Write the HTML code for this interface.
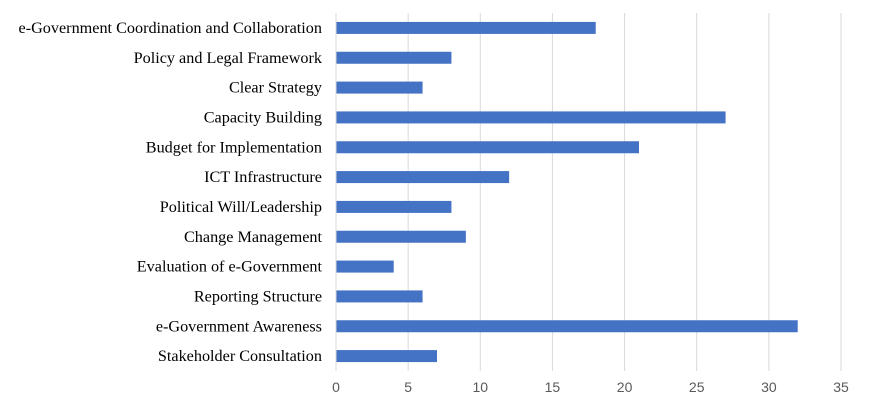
<!DOCTYPE html>
<html><head><meta charset="utf-8"><style>
html,body{margin:0;padding:0;background:#fff;}
svg{display:block;}
.cat{font-family:"Liberation Serif",serif;font-size:16.2px;fill:#000;}
.tick{font-family:"Liberation Sans",sans-serif;font-size:14px;fill:#595959;}
</style></head><body>
<svg id="chart" width="879" height="418"></svg>
<script>
const categories=["e-Government Coordination and Collaboration","Policy and Legal Framework","Clear Strategy","Capacity Building","Budget for Implementation","ICT Infrastructure","Political Will/Leadership","Change Management","Evaluation of e-Government","Reporting Structure","e-Government Awareness","Stakeholder Consultation"];
const values=[18,8,6,27,21,12,8,9,4,6,32,7];
const ticks=[0,5,10,15,20,25,30,35];
const NS="http://www.w3.org/2000/svg";
const svgEl=document.getElementById('chart');
const x0=336,x1=841,xmax=35,yTop=13,yBottom=371;
const xs=v=>x0+(x1-x0)*v/xmax;
const band=(yBottom-yTop)/categories.length;
const yc=i=>yTop+band*(i+0.5);
function mk(t,a){const e=document.createElementNS(NS,t);for(const k in a)e.setAttribute(k,a[k]);svgEl.appendChild(e);return e;}
ticks.forEach(t=>{
 const g=mk('line',{x1:xs(t),x2:xs(t),y1:yTop,y2:yBottom,stroke:'#d9d9d9','stroke-width':1});
 
 
 const l=mk('text',{x:xs(t),y:392,'text-anchor':'middle',class:'tick'});
 l.textContent=t;
 
 
});
categories.forEach((c,i)=>{
 const b=mk('rect',{x:x0,y:yc(i)-6,width:xs(values[i])-x0,height:12,fill:'#4472c4'});
 
 
 const t=mk('text',{x:322,y:yc(i)+5,'text-anchor':'end',class:'cat'});
 t.textContent=c;
 
 
});
const ax=mk('line',{x1:x0,x2:x0,y1:yTop,y2:yBottom,stroke:'#d9d9d9','stroke-width':1});


</script>
</body></html>
